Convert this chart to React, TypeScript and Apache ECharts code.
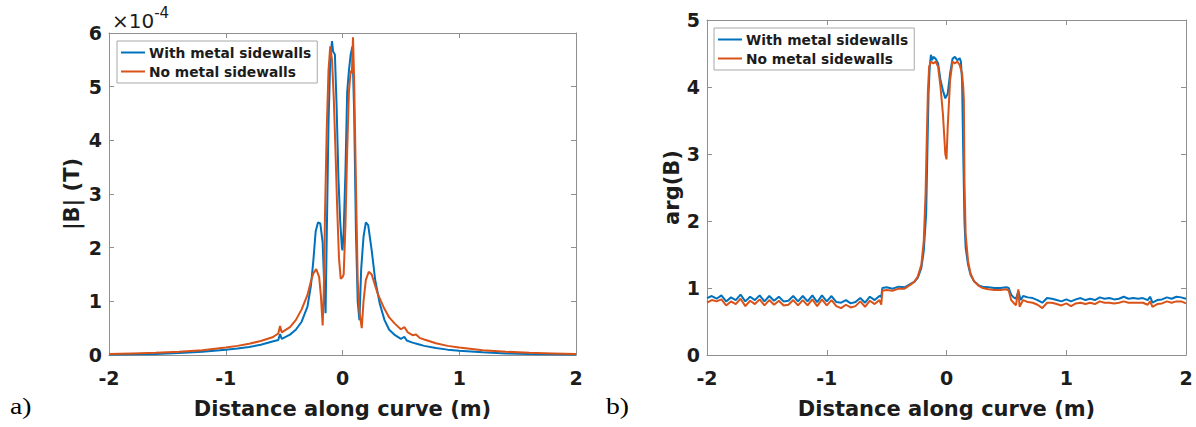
import React, { useEffect, useRef } from "react";
import * as echarts from "echarts";

const SERIES_WITH = "With metal sidewalls";
const SERIES_NO = "No metal sidewalls";
const X_TICKS = { min: -2, max: 2, interval: 1 };
const MAG_TICKS = { min: 0, max: 6, interval: 1 };
const ARG_TICKS = { min: 0, max: 5, interval: 1 };

// |B| in units of 1e-4 T, [distance (m), value]
const magWith: number[][] = [
  [-2, 0.01], [-1.8, 0.015], [-1.6, 0.02], [-1.4, 0.035], [-1.2, 0.06], [-1.0, 0.1],
  [-0.9, 0.12], [-0.8, 0.15], [-0.7, 0.19], [-0.6, 0.25], [-0.55, 0.28], [-0.535, 0.39],
  [-0.52, 0.3], [-0.45, 0.38], [-0.4, 0.47], [-0.35, 0.62], [-0.3, 0.9], [-0.27, 1.3],
  [-0.25, 1.75], [-0.23, 2.3], [-0.21, 2.47], [-0.19, 2.45], [-0.17, 2.1], [-0.155, 1.2],
  [-0.145, 0.78], [-0.135, 2.2], [-0.12, 4.3], [-0.105, 5.5], [-0.09, 5.85], [-0.08, 5.65],
  [-0.065, 5.6], [-0.05, 4.6], [-0.035, 3.3], [-0.02, 2.5], [-0.005, 2.0], [0, 1.95],
  [0.01, 2.3], [0.025, 3.4], [0.04, 4.9], [0.055, 5.3], [0.07, 5.6], [0.085, 5.75],
  [0.1, 4.5], [0.115, 2.3], [0.13, 1.0], [0.145, 0.65], [0.16, 1.6], [0.18, 2.2],
  [0.2, 2.47], [0.22, 2.42], [0.25, 1.95], [0.28, 1.4], [0.32, 0.95], [0.36, 0.65],
  [0.4, 0.47], [0.45, 0.37], [0.5, 0.3], [0.53, 0.34], [0.55, 0.27], [0.6, 0.23],
  [0.65, 0.2], [0.7, 0.17], [0.8, 0.13], [0.9, 0.1], [1.0, 0.08], [1.2, 0.05],
  [1.4, 0.03], [1.6, 0.02], [1.8, 0.015], [2.0, 0.01],
];

const magNo: number[][] = [
  [-2, 0.02], [-1.8, 0.03], [-1.6, 0.04], [-1.4, 0.06], [-1.2, 0.09], [-1.0, 0.14],
  [-0.9, 0.17], [-0.8, 0.21], [-0.7, 0.26], [-0.6, 0.33], [-0.55, 0.4], [-0.535, 0.54],
  [-0.52, 0.42], [-0.45, 0.52], [-0.4, 0.65], [-0.35, 0.85], [-0.3, 1.12], [-0.27, 1.38],
  [-0.25, 1.52], [-0.225, 1.6], [-0.2, 1.45], [-0.185, 1.1], [-0.17, 0.55], [-0.16, 1.2],
  [-0.15, 2.6], [-0.135, 4.2], [-0.12, 5.3], [-0.105, 5.75], [-0.09, 5.5], [-0.075, 4.8],
  [-0.06, 3.8], [-0.045, 2.7], [-0.03, 1.8], [-0.015, 1.42], [0, 1.45], [0.01, 1.5],
  [0.025, 2.4], [0.04, 3.8], [0.055, 4.9], [0.07, 5.3], [0.08, 5.25], [0.09, 5.92],
  [0.1, 5.1], [0.115, 3.2], [0.13, 1.4], [0.145, 0.8], [0.165, 0.5], [0.18, 1.0],
  [0.2, 1.4], [0.225, 1.55], [0.25, 1.5], [0.3, 1.15], [0.35, 0.9], [0.4, 0.7],
  [0.45, 0.58], [0.5, 0.48], [0.53, 0.52], [0.56, 0.42], [0.6, 0.37], [0.63, 0.38],
  [0.66, 0.32], [0.7, 0.29], [0.8, 0.22], [0.9, 0.17], [1.0, 0.14], [1.2, 0.09],
  [1.4, 0.06], [1.6, 0.04], [1.8, 0.03], [2.0, 0.02],
];

// arg(B), [distance (m), value]
const argWith: number[][] = [
  [-2, 0.85], [-1.96, 0.88], [-1.92, 0.84], [-1.88, 0.89], [-1.84, 0.8], [-1.8, 0.86],
  [-1.76, 0.82], [-1.72, 0.9], [-1.68, 0.8], [-1.64, 0.87], [-1.6, 0.82], [-1.56, 0.89],
  [-1.52, 0.8], [-1.48, 0.88], [-1.44, 0.81], [-1.4, 0.87], [-1.36, 0.8], [-1.32, 0.81],
  [-1.28, 0.88], [-1.24, 0.8], [-1.2, 0.88], [-1.16, 0.8], [-1.12, 0.89], [-1.08, 0.79],
  [-1.04, 0.89], [-1.0, 0.8], [-0.96, 0.88], [-0.92, 0.79], [-0.88, 0.78], [-0.84, 0.82],
  [-0.8, 0.77], [-0.76, 0.79], [-0.72, 0.85], [-0.68, 0.78], [-0.64, 0.87], [-0.6, 0.82],
  [-0.56, 0.88], [-0.545, 0.87], [-0.535, 1.0], [-0.5, 1.01], [-0.45, 0.99], [-0.4, 1.02],
  [-0.35, 1.01], [-0.3, 1.06], [-0.27, 1.09], [-0.24, 1.15], [-0.21, 1.3], [-0.19, 1.55],
  [-0.17, 2.1], [-0.16, 3.0], [-0.15, 3.9], [-0.14, 4.3], [-0.13, 4.48], [-0.12, 4.4],
  [-0.11, 4.45], [-0.09, 4.42], [-0.07, 4.35], [-0.05, 4.1], [-0.03, 3.95], [-0.01, 3.83],
  [0.01, 3.9], [0.03, 4.2], [0.05, 4.42], [0.07, 4.45], [0.09, 4.4], [0.11, 4.43],
  [0.12, 4.38], [0.13, 4.1], [0.14, 3.0], [0.15, 2.0], [0.16, 1.6], [0.18, 1.35],
  [0.2, 1.2], [0.23, 1.1], [0.27, 1.04], [0.3, 1.02], [0.35, 1.01], [0.4, 1.0],
  [0.45, 1.0], [0.5, 1.01], [0.52, 1.0], [0.54, 0.9], [0.56, 0.86], [0.58, 0.84],
  [0.6, 0.95], [0.62, 0.82], [0.64, 0.88], [0.68, 0.86], [0.72, 0.85], [0.76, 0.82],
  [0.8, 0.78], [0.84, 0.85], [0.88, 0.84], [0.92, 0.82], [0.96, 0.8], [1.0, 0.83],
  [1.04, 0.8], [1.08, 0.83], [1.12, 0.85], [1.16, 0.82], [1.2, 0.84], [1.24, 0.82],
  [1.28, 0.86], [1.32, 0.84], [1.36, 0.85], [1.4, 0.83], [1.44, 0.84], [1.48, 0.87],
  [1.52, 0.84], [1.56, 0.85], [1.6, 0.84], [1.64, 0.85], [1.68, 0.82], [1.7, 0.87],
  [1.72, 0.78], [1.76, 0.82], [1.8, 0.83], [1.84, 0.86], [1.88, 0.84], [1.92, 0.87],
  [1.96, 0.86], [2.0, 0.84],
];

const argNo: number[][] = [
  [-2, 0.78], [-1.96, 0.82], [-1.92, 0.8], [-1.88, 0.83], [-1.84, 0.74], [-1.8, 0.8],
  [-1.76, 0.76], [-1.72, 0.84], [-1.68, 0.73], [-1.64, 0.81], [-1.6, 0.76], [-1.56, 0.83],
  [-1.52, 0.74], [-1.48, 0.82], [-1.44, 0.75], [-1.4, 0.81], [-1.36, 0.74], [-1.32, 0.75],
  [-1.28, 0.82], [-1.24, 0.74], [-1.2, 0.82], [-1.16, 0.74], [-1.12, 0.83], [-1.08, 0.73],
  [-1.04, 0.83], [-1.0, 0.74], [-0.96, 0.82], [-0.92, 0.73], [-0.88, 0.7], [-0.84, 0.75],
  [-0.8, 0.71], [-0.76, 0.73], [-0.72, 0.8], [-0.68, 0.72], [-0.64, 0.81], [-0.6, 0.76],
  [-0.56, 0.82], [-0.545, 0.75], [-0.535, 0.96], [-0.5, 0.97], [-0.45, 0.96], [-0.4, 0.99],
  [-0.35, 0.99], [-0.3, 1.05], [-0.27, 1.09], [-0.24, 1.17], [-0.21, 1.35], [-0.19, 1.7],
  [-0.175, 2.4], [-0.165, 3.2], [-0.155, 3.95], [-0.145, 4.3], [-0.13, 4.38], [-0.11, 4.35],
  [-0.09, 4.38], [-0.07, 4.3], [-0.05, 4.0], [-0.03, 3.6], [-0.01, 3.0], [0, 2.92],
  [0.01, 3.4], [0.03, 4.1], [0.05, 4.38], [0.07, 4.35], [0.09, 4.38], [0.11, 4.33],
  [0.13, 4.2], [0.14, 4.0], [0.145, 3.8], [0.15, 2.6], [0.16, 1.8], [0.18, 1.4],
  [0.2, 1.22], [0.23, 1.1], [0.27, 1.03], [0.3, 1.0], [0.35, 0.98], [0.4, 0.97],
  [0.45, 0.97], [0.5, 0.98], [0.52, 0.96], [0.54, 0.82], [0.56, 0.78], [0.58, 0.74],
  [0.6, 0.98], [0.61, 0.72], [0.64, 0.82], [0.68, 0.79], [0.72, 0.78], [0.76, 0.75],
  [0.8, 0.7], [0.84, 0.78], [0.88, 0.78], [0.92, 0.76], [0.96, 0.74], [1.0, 0.77],
  [1.04, 0.73], [1.08, 0.77], [1.12, 0.78], [1.16, 0.76], [1.2, 0.78], [1.24, 0.76],
  [1.28, 0.8], [1.32, 0.78], [1.36, 0.78], [1.4, 0.77], [1.44, 0.78], [1.48, 0.8],
  [1.52, 0.78], [1.56, 0.78], [1.6, 0.78], [1.64, 0.78], [1.68, 0.75], [1.7, 0.8],
  [1.72, 0.72], [1.76, 0.76], [1.8, 0.77], [1.84, 0.8], [1.88, 0.78], [1.92, 0.8],
  [1.96, 0.8], [2.0, 0.77],
];

const BLUE = "#0072BD";
const ORANGE = "#D95319";
const AXIS_GRAY = "#8f8f8f";
const TEXT = "#1c1c1c";
const FONT = "DejaVu Sans";

const axisLine = { show: true, onZero: false, lineStyle: { color: AXIS_GRAY, width: 1 } };
const axisTick = { show: true, inside: true, length: 5, lineStyle: { color: AXIS_GRAY } };
const tickLabel = { fontSize: 19, fontWeight: "bold", color: TEXT, fontFamily: FONT };
const nameStyle = { fontSize: 21, fontWeight: "bold", color: TEXT, fontFamily: FONT };

function xAxes(gridIndex: number) {
  return [
    {
      type: "value", gridIndex, ...X_TICKS, axisLine, axisTick,
      splitLine: { show: false },
      axisLabel: { ...tickLabel, margin: 13 },
      name: "Distance along curve (m)", nameLocation: "middle", nameGap: 43,
      nameTextStyle: nameStyle,
    },
    {
      type: "value", gridIndex, position: "top", ...X_TICKS, axisLine, axisTick,
      splitLine: { show: false }, axisLabel: { show: false },
    },
  ];
}

function yAxes(gridIndex: number, ticks: any, name: string, gap: number) {
  return [
    {
      type: "value", gridIndex, ...ticks, axisLine, axisTick,
      splitLine: { show: false },
      axisLabel: { ...tickLabel, margin: 7 },
      name, nameLocation: "middle", nameGap: gap, nameTextStyle: nameStyle,
    },
    {
      type: "value", gridIndex, position: "right", ...ticks, axisLine, axisTick,
      splitLine: { show: false }, axisLabel: { show: false },
    },
  ];
}

function line(name: string, data: number[][], color: string, xi: number, yi: number) {
  return {
    type: "line", name, data, xAxisIndex: xi, yAxisIndex: yi,
    symbol: "none", showSymbol: false, smooth: false,
    lineStyle: { color, width: 2 }, itemStyle: { color },
  };
}

function legendAt(left: number, top: number) {
  return {
    left, top, orient: "vertical",
    data: [SERIES_WITH, SERIES_NO],
    icon: "rect",
    backgroundColor: "#fff", borderColor: "#a8a8a8", borderWidth: 1,
    padding: [3, 6, 3, 4], itemGap: 2, itemWidth: 24, itemHeight: 2,
    textStyle: {
      fontSize: 13.8, fontWeight: "bold", color: TEXT, fontFamily: FONT,
      lineHeight: 17, padding: [0, 0, 0, -1],
    },
    selectedMode: false,
  };
}

export default function App() {
  const ref = useRef<HTMLDivElement>(null);
  useEffect(() => {
    if (!ref.current) return;
    const chart = echarts.init(ref.current, undefined, { renderer: "svg" });
    chart.setOption({
      animation: false,
      backgroundColor: "#fff",
      grid: [
        { left: 109, top: 33, width: 467, height: 322 },
        { left: 707, top: 20, width: 479, height: 335 },
      ],
      xAxis: [...xAxes(0), ...xAxes(1)],
      yAxis: [...yAxes(0, MAG_TICKS, "|B| (T)", 27), ...yAxes(1, ARG_TICKS, "arg(B)", 22)],
      legend: [legendAt(117, 41), legendAt(714, 28)],
      series: [
        line(SERIES_WITH, magWith, BLUE, 0, 0),
        line(SERIES_NO, magNo, ORANGE, 0, 0),
        line(SERIES_WITH, argWith, BLUE, 2, 2),
        line(SERIES_NO, argNo, ORANGE, 2, 2),
      ],
      graphic: [
        {
          type: "text", left: 112, top: 5,
          style: {
            text: "{a|×10}{b|-4}",
            rich: {
              a: { fontSize: 20, fontFamily: FONT, fill: TEXT, verticalAlign: "bottom", lineHeight: 26 },
              b: { fontSize: 15, fontFamily: FONT, fill: TEXT, verticalAlign: "top", lineHeight: 26, padding: [0, 0, 11, 0] },
            },
          },
        },
        {
          type: "text", left: 10, top: 394, scaleX: 1.15,
          style: { text: "a)", fontSize: 24, fontFamily: "Liberation Serif", fill: "#000" },
        },
        {
          type: "text", left: 606, top: 394, scaleX: 1.15,
          style: { text: "b)", fontSize: 24, fontFamily: "Liberation Serif", fill: "#000" },
        },
      ],
    });
    return () => chart.dispose();
  }, []);
  return (
    <div
      ref={ref}
      style={{ position: "fixed", left: 0, top: 0, width: 1196, height: 427, background: "#fff" }}
    />
  );
}
